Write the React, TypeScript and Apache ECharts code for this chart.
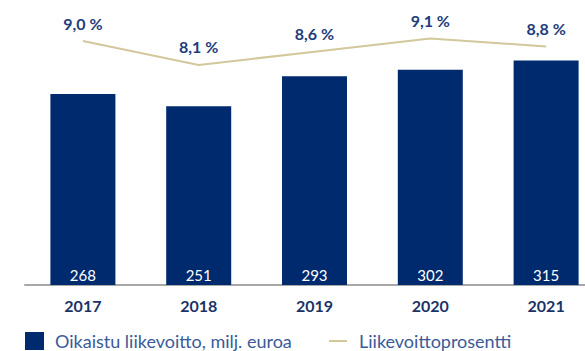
import React, { useEffect, useRef } from "react";
import * as echarts from "echarts";

const years = ["2017", "2018", "2019", "2020", "2021"];
const profit = [268, 251, 293, 302, 315];
const margin = [9.0, 8.1, 8.6, 9.1, 8.8];
const barName = "Oikaistu liikevoitto, milj. euroa";
const lineName = "Liikevoittoprosentti";

export default function App() {
  const ref = useRef<HTMLDivElement>(null);
  useEffect(() => {
    if (!ref.current) return;
    const chart = echarts.init(ref.current, null, { renderer: "svg" });
    const legendText = { fontFamily: "Lato", fontSize: 18, color: "#3a5b98" };
    chart.setOption({
      animation: false,
      backgroundColor: "#ffffff",
      textStyle: { fontFamily: "Lato" },
      grid: {
        left: 25,
        top: 0,
        width: 579,
        height: 285,
        containLabel: false,
        outerBoundsMode: "none",
      },
      legend: [
        {
          left: 25,
          top: 332,
          padding: 0,
          itemWidth: 19,
          itemHeight: 18,
          textStyle: { ...legendText, padding: [0, 0, 0, 6] },
          data: [{ name: barName, icon: "rect" }],
        },
        {
          left: 329,
          top: 332,
          padding: 0,
          itemWidth: 18,
          itemHeight: 2,
          textStyle: { ...legendText, padding: [0, 0, 0, 7] },
          data: [{ name: lineName, icon: "rect", itemStyle: { color: "#d3c79c" } }],
        },
      ],
      xAxis: {
        type: "category",
        data: years,
        axisLine: { show: true, lineStyle: { color: "#a8a8a8", width: 2 } },
        axisTick: { show: false },
        axisLabel: { margin: 12, fontFamily: "Lato", fontSize: 16, fontWeight: "bold", color: "#1a3366" },
      },
      yAxis: [
        { type: "value", min: 0, max: 400, show: false, splitLine: { show: false } },
        { type: "value", min: -0.2, max: 10.55, show: false, splitLine: { show: false } },
      ],
      series: [
        {
          name: barName,
          type: "bar",
          data: profit,
          barWidth: 65,
          itemStyle: { color: "#002a6e" },
          label: {
            show: true,
            position: "insideBottom",
            distance: 3,
            color: "#ffffff",
            fontFamily: "Lato",
            fontSize: 15,
          },
          z: 2,
        },
        {
          name: lineName,
          type: "line",
          yAxisIndex: 1,
          data: margin,
          symbol: "circle",
          symbolSize: 0.1,
          showSymbol: true,
          lineStyle: { color: "#d3c79c", width: 2 },
          itemStyle: { color: "#d3c79c" },
          label: {
            show: true,
            position: "top",
            distance: 10,
            fontFamily: "Lato",
            fontSize: 16,
            fontWeight: "bold",
            color: "#1e3c7c",
            formatter: (p: any) => p.value.toFixed(1).replace(".", ",") + " %",
          },
          z: 3,
        },
      ],
    });
    return () => chart.dispose();
  }, []);
  return (
    <div
      ref={ref}
      style={{ position: "fixed", left: 0, top: 0, width: 585, height: 351, background: "#fff" }}
    />
  );
}
